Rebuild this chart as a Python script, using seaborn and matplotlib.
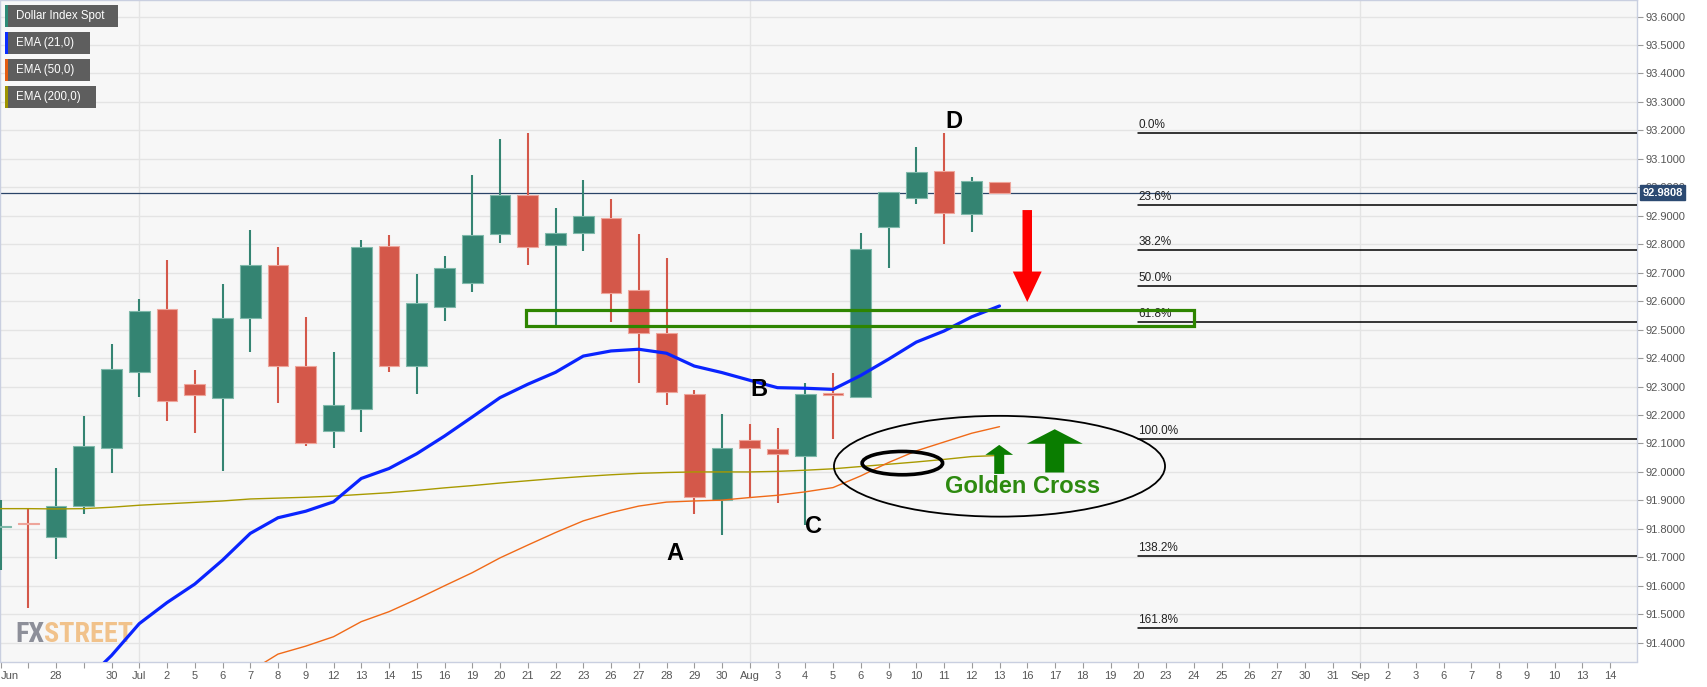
import numpy as np
import pandas as pd
import matplotlib
matplotlib.use("Agg")
import matplotlib.pyplot as plt
import seaborn as sns
from matplotlib.patches import Rectangle, Ellipse, Polygon
from matplotlib import font_manager as fm

# ------------------------------------------------------------------ data
dates = ["Jun 24", "Jun 25", "Jun 28", "Jun 29", "Jun 30", "Jul 1", "Jul 2", "Jul 5",
         "Jul 6", "Jul 7", "Jul 8", "Jul 9", "Jul 12", "Jul 13", "Jul 14", "Jul 15",
         "Jul 16", "Jul 19", "Jul 20", "Jul 21", "Jul 22", "Jul 23", "Jul 26", "Jul 27",
         "Jul 28", "Jul 29", "Jul 30", "Aug 2", "Aug 3", "Aug 4", "Aug 5", "Aug 6",
         "Aug 9", "Aug 10", "Aug 11", "Aug 12", "Aug 13"]
opens = [91.806, 91.821, 91.771, 91.879, 92.085, 92.351, 92.572, 92.310,
         92.261, 92.542, 92.726, 92.371, 92.144, 92.222, 92.792, 92.371,
         92.580, 92.664, 92.835, 92.972, 92.798, 92.838, 92.893, 92.638,
         92.487, 92.275, 91.901, 92.111, 92.082, 92.056, 92.276, 92.263,
         92.862, 92.963, 93.057, 92.907, 93.020]
highs = [91.902, 91.874, 92.013, 92.196, 92.450, 92.606, 92.743, 92.358,
         92.659, 92.850, 92.790, 92.545, 92.421, 92.814, 92.833, 92.695,
         92.758, 93.042, 93.170, 93.191, 92.926, 93.024, 92.960, 92.837,
         92.750, 92.288, 92.202, 92.170, 92.156, 92.311, 92.349, 92.840,
         92.985, 93.143, 93.192, 93.037, 93.020]
lows = [91.657, 91.523, 91.694, 91.852, 91.996, 92.265, 92.179, 92.137,
        92.004, 92.421, 92.243, 92.091, 92.084, 92.140, 92.351, 92.273,
        92.531, 92.633, 92.803, 92.728, 92.509, 92.777, 92.527, 92.314,
        92.234, 91.853, 91.779, 91.910, 91.892, 91.814, 92.115, 92.263,
        92.718, 92.942, 92.800, 92.844, 92.975]
closes = [91.810, 91.817, 91.881, 92.091, 92.361, 92.565, 92.249, 92.269,
          92.542, 92.728, 92.371, 92.102, 92.234, 92.790, 92.371, 92.592,
          92.716, 92.833, 92.972, 92.790, 92.841, 92.899, 92.630, 92.489,
          92.282, 91.912, 92.083, 92.083, 92.062, 92.273, 92.270, 92.782,
          92.985, 93.055, 92.911, 93.022, 92.981]

nan = np.nan
ema21 = [nan, nan, nan, 91.260, 91.355, 91.467, 91.541, 91.606, 91.690, 91.784,
         91.839, 91.862, 91.895, 91.977, 92.012, 92.064, 92.126, 92.193, 92.261,
         92.308, 92.350, 92.407, 92.425, 92.431, 92.417, 92.372, 92.349, 92.322,
         92.296, 92.294, 92.290, 92.339, 92.396, 92.456, 92.495, 92.545, 92.583]
ema50 = [nan, nan, nan, nan, nan, nan, nan, nan, 91.260, 91.300, 91.360, 91.388,
         91.421, 91.474, 91.509, 91.553, 91.600, 91.646, 91.698, 91.743, 91.787,
         91.828, 91.857, 91.880, 91.894, 91.898, 91.901, 91.910, 91.918, 91.930,
         91.945, 91.986, 92.033, 92.074, 92.105, 92.136, 92.159]
ema200 = [91.871, 91.871, 91.870, 91.871, 91.876, 91.883, 91.888, 91.893, 91.898,
          91.905, 91.908, 91.911, 91.915, 91.921, 91.927, 91.935, 91.944, 91.952,
          91.961, 91.969, 91.977, 91.984, 91.990, 91.995, 91.998, 92.000, 92.000,
          92.000, 92.002, 92.006, 92.011, 92.019, 92.027, 92.035, 92.044, 92.054,
          92.058]

# x-axis labels for every trading-day slot (chart extends into the future)
x_labels = ["Jun", "", "28", "", "30", "Jul", "2", "5", "6", "7", "8", "9", "12", "13",
            "14", "15", "16", "19", "20", "21", "22", "23", "26", "27", "28", "29", "30",
            "Aug", "3", "4", "5", "6", "9", "10", "11", "12", "13", "16", "17", "18", "19",
            "20", "23", "24", "25", "26", "27", "30", "31", "Sep", "2", "3", "6", "7", "8",
            "9", "10", "13", "14"]
month_names = ["Jul", "Aug", "Sep"]

y_ticks = [91.4, 91.5, 91.6, 91.7, 91.8, 91.9, 92.0, 92.1, 92.2, 92.3, 92.4, 92.5,
           92.6, 92.7, 92.8, 92.9, 93.0, 93.1, 93.2, 93.3, 93.4, 93.5, 93.6]

last_price = 92.9808
fib_high = 93.19
fib_low = 92.116
fib_ratios = [0.0, 0.236, 0.382, 0.5, 0.618, 1.0, 1.382, 1.618]
fib_labels = ["0.0%", "23.6%", "38.2%", "50.0%", "61.8%", "100.0%", "138.2%", "161.8%"]
fib_start = 41

zone_x = [18.95, 43.0]
zone_y = [92.513, 92.568]

point_labels = ["A", "B", "C", "D"]
point_x = [24.32, 27.34, 29.3, 34.36]
point_y = [91.691, 92.267, 91.785, 93.209]

legend_names = ["Dollar Index Spot", "EMA (21,0)", "EMA (50,0)", "EMA (200,0)"]

# ------------------------------------------------------------------ style
sns.set_theme(style="white")
plt.rcParams["font.family"] = ["Liberation Sans", "DejaVu Sans"]

GREEN = "#348472"
GREEN_EDGE = "#7fb9aa"
RED = "#d4584a"
RED_EDGE = "#eea59b"
BLUE = "#0a24ff"
ORANGE = "#f06a18"
OLIVE = "#a89a00"
GRID = "#e4e4e4"
SPINE = "#c9cfe0"

W, H, DPI = 1707, 687, 100
AX_R, AX_B = 1637, 661.5
PX_PER_IDX = 27.75
fig = plt.figure(figsize=(W / DPI, H / DPI), dpi=DPI, facecolor="white")
ax = fig.add_axes([0, 1 - AX_B / H, AX_R / W, AX_B / H])
ax.set_facecolor("#f7f7f7")

df = pd.DataFrame({"date": dates, "open": opens, "high": highs, "low": lows, "close": closes})
df["idx"] = np.arange(len(df))
up = df["close"] >= df["open"]
body_col = np.where(up, GREEN, RED)
edge_col = np.where(up, GREEN_EDGE, RED_EDGE)

# grid
for i, lab in enumerate(x_labels):
    if lab in month_names:
        ax.axvline(i, color=GRID, lw=1, zorder=0.5)
ax.set_yticks(y_ticks)
ax.grid(axis="y", color=GRID, lw=1)
ax.grid(axis="x", visible=False)
ax.set_axisbelow(True)

# current price line
ax.axhline(last_price, color="#2a4468", lw=0.9, zorder=2)

# candles
ax.vlines(df["idx"], df["low"], df["high"], colors=body_col, linewidth=1.5, zorder=3)
heights = (df["close"] - df["open"]).abs().clip(lower=0.004)
ax.bar(df["idx"], heights, bottom=np.minimum(df["open"], df["close"]), width=0.74,
       color=body_col, edgecolor=edge_col, linewidth=0.8, zorder=4)

# EMAs
ema_df = pd.DataFrame({"idx": df["idx"], "ema21": ema21, "ema50": ema50, "ema200": ema200})
sns.lineplot(data=ema_df, x="idx", y="ema200", ax=ax, color=OLIVE, lw=1.0,
             estimator=None, sort=False, zorder=5)
sns.lineplot(data=ema_df, x="idx", y="ema50", ax=ax, color=ORANGE, lw=1.0,
             estimator=None, sort=False, zorder=5)
sns.lineplot(data=ema_df, x="idx", y="ema21", ax=ax, color=BLUE, lw=2.3,
             estimator=None, sort=False, zorder=5)

# fibonacci levels
x_right = (AX_R - 0.5) / PX_PER_IDX
fib_levels = [fib_high - r * (fib_high - fib_low) for r in fib_ratios]
for lvl, lab in zip(fib_levels, fib_labels):
    ax.plot([fib_start, x_right + 1], [lvl, lvl], color="black", lw=1.1, zorder=3)
    ax.annotate(lab, xy=(fib_start, lvl), xytext=(0, 1.5), textcoords="offset points",
                ha="left", va="bottom", fontsize=8.5, color="#222222", zorder=6)

# support zone
ax.add_patch(Rectangle((zone_x[0], zone_y[0]), zone_x[1] - zone_x[0], zone_y[1] - zone_y[0],
                       fill=False, ec="#2e8500", lw=2.3, zorder=6))

# arrows
def arrow(xc, y0, yb, yt, sw, hw, color):
    pts = [(xc - sw, y0), (xc + sw, y0), (xc + sw, yb), (xc + hw, yb), (xc, yt),
           (xc - hw, yb), (xc - sw, yb)]
    ax.add_patch(Polygon(pts, closed=True, fc=color, ec="none", zorder=7))

arrow(37.0, 92.92, 92.704, 92.597, 0.171, 0.52, "#ff0000")
arrow(35.99, 91.993, 92.06, 92.095, 0.18, 0.50, "#0a7d00")
arrow(37.99, 91.998, 92.099, 92.15, 0.342, 1.01, "#0a7d00")

# golden cross ellipses
ax.add_patch(Ellipse((36.0, 92.02), 11.93, 0.354, fill=False, ec="black", lw=1.3, zorder=7))
ax.add_patch(Ellipse((32.5, 92.031), 2.9, 0.082, fill=False, ec="black", lw=2.6, zorder=7))
ax.text(34.02, 91.926, "Golden Cross", fontsize=17, fontweight="bold", color="#2d8a10",
        ha="left", va="baseline", zorder=8)

for lab, px, py in zip(point_labels, point_x, point_y):
    ax.text(px, py, lab, fontsize=17, fontweight="bold", color="black",
            ha="center", va="baseline", zorder=8)

# axes
ax.set_xlim(-0.5 / PX_PER_IDX, x_right)
ax.set_ylim(91.334, 93.658)
ax.yaxis.tick_right()
ax.set_yticklabels([f"{v:.4f}" for v in y_ticks])
ax.set_xticks(np.arange(len(x_labels)))
ax.set_xticklabels(x_labels)
ax.tick_params(axis="y", which="both", right=True, left=False, length=4, width=0.8,
               color="#9a9a9a", labelsize=8, labelcolor="#555555", pad=2)
ax.tick_params(axis="x", which="both", bottom=True, length=4, width=0.8, color="#9a9a9a",
               labelsize=8, labelcolor="#555555", pad=3)
ax.get_xticklabels()[0].set_ha("left")
ax.set_xlabel("")
ax.set_ylabel("")
for s in ax.spines.values():
    s.set_visible(True)
    s.set_color(SPINE)
    s.set_linewidth(1)

# last price tag
ax.annotate(f"{last_price:.4f}", xy=(1.0, last_price), xycoords=("axes fraction", "data"),
            xytext=(4, 0), textcoords="offset points", ha="left", va="center",
            fontsize=8, fontweight="bold", color="white", zorder=10, annotation_clip=False,
            bbox=dict(boxstyle="square,pad=0.22", fc="#2c4a72", ec="#2c4a72"))

# legend boxes (top-left)
def fx(x):
    return x / W

def fy(y):
    return 1 - y / H

leg_boxes = [(5, 5, 118, 27), (5, 32, 90, 54), (5, 59, 90, 81), (5, 86, 96, 108)]
leg_colors = ["#2e8b77", "#0a2cff", "#e35d12", "#9e9400"]
for (x0, y0, x1, y1), name, col in zip(leg_boxes, legend_names, leg_colors):
    fig.add_artist(Rectangle((fx(x0), fy(y1)), fx(x1 - x0), (y1 - y0) / H,
                             transform=fig.transFigure, fc="#5e5e5e", ec="none", zorder=20))
    fig.add_artist(Rectangle((fx(x0), fy(y1)), fx(3), (y1 - y0) / H,
                             transform=fig.transFigure, fc=col, ec="none", zorder=21))
    fig.text(fx(x0 + 11), fy((y0 + y1) / 2), name, fontsize=8.3, color="white",
             ha="left", va="center", zorder=22)

# FXSTREET watermark (condensed face if one is installed)
fonts = fm.fontManager.ttflist
names = {f.name for f in fonts}
wm_kw = dict(family="Liberation Sans")
for cand in ["Liberation Sans Narrow", "Roboto Condensed", "Open Sans Condensed"]:
    if cand in names:
        wm_kw = dict(family=cand)
        break
else:
    if any(f.name == "DejaVu Sans" and f.stretch == "condensed" for f in fonts):
        wm_kw = dict(family="DejaVu Sans", fontstretch="condensed")

wm_size = 20
t1 = ax.text(15 / AX_R, (AX_B - 641.5) / AX_B, "FX", transform=ax.transAxes,
             fontsize=wm_size, fontweight="bold", color="#8d8f99", ha="left",
             va="baseline", zorder=1, **wm_kw)
t2 = ax.annotate("STREET", xy=(1, 0), xycoords=t1, fontsize=wm_size, fontweight="bold",
                 color="#f1c28b", ha="left", va="bottom", zorder=1, **wm_kw)
fig.canvas.draw()
r = fig.canvas.get_renderer()
total_w = t2.get_window_extent(r).x1 - t1.get_window_extent(r).x0
new_size = min(wm_size * 118.0 / total_w, 26)
t1.set_fontsize(new_size)
t2.set_fontsize(new_size)

fig.savefig("out.png", dpi=DPI, facecolor="white")
